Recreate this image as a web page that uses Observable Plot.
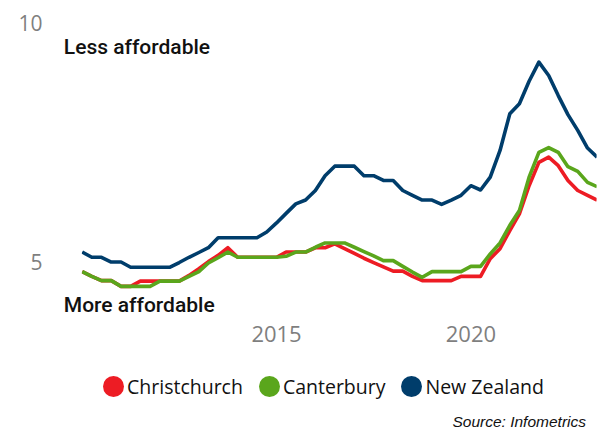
<!DOCTYPE html>
<html>
<head>
<meta charset="utf-8">
<script src="https://cdn.jsdelivr.net/npm/d3@7"></script>
<script src="https://cdn.jsdelivr.net/npm/@observablehq/plot@0.6"></script>
<style>
  html, body { margin: 0; padding: 0; background: #fff; }
  body { width: 598px; height: 439px; overflow: hidden; font-family: "Open Sans", sans-serif; }
  #chart svg { display: block; }
  .legend { display: flex; align-items: center; padding-left: 103px; margin-top: 17px; height: 28px; font-size: 19.5px; color: #111; }
  .legend .item { display: flex; align-items: center; margin-right: 16px; }
  .legend .dot { width: 21px; height: 21px; border-radius: 50%; margin-right: 3px; }
  .source { text-align: right; padding-right: 12px; margin-top: 12px; font-family: "Liberation Sans", Arial, sans-serif; font-style: italic; font-size: 15.5px; color: #111; line-height: 20px; }
</style>
</head>
<body>
<div id="chart"></div>
<div class="legend" id="legend"></div>
<div class="source">Source: Infometrics</div>
<script>
// Quarterly series, first quarter beginning Jan 2010 (54 quarters)
const firstQuarter = "2010-01-01";
const seriesNames = ["Christchurch", "Canterbury", "New Zealand"];
const seriesColors = ["#ED1C24", "#5AA61C", "#003D6B"];
const christchurch = [4.82,4.72,4.63,4.63,4.51,4.51,4.62,4.62,4.62,4.62,
  4.62,4.74,4.88,5.03,5.16,5.32,5.12,5.12,5.12,5.12,
  5.12,5.23,5.23,5.23,5.32,5.32,5.40,5.30,5.20,5.10,
  5.01,4.92,4.83,4.83,4.72,4.63,4.63,4.63,4.63,4.72,
  4.72,4.72,5.09,5.30,5.68,6.03,6.62,7.11,7.22,7.04,
  6.73,6.52,6.42,6.32];
const canterbury = [4.82,4.72,4.63,4.63,4.51,4.51,4.51,4.51,4.62,4.62,
  4.62,4.72,4.82,5.00,5.11,5.23,5.12,5.12,5.12,5.12,
  5.12,5.14,5.23,5.23,5.33,5.42,5.42,5.42,5.33,5.24,
  5.15,5.05,5.05,4.93,4.81,4.70,4.82,4.82,4.82,4.82,
  4.93,4.93,5.19,5.42,5.79,6.10,6.80,7.32,7.42,7.32,
  7.02,6.92,6.69,6.60];
const newZealand = [5.23,5.12,5.12,5.02,5.02,4.91,4.91,4.91,4.91,4.91,
  5.01,5.12,5.22,5.32,5.53,5.53,5.53,5.53,5.53,5.65,
  5.84,6.04,6.24,6.32,6.52,6.83,7.03,7.03,7.03,6.83,
  6.83,6.73,6.73,6.52,6.42,6.32,6.32,6.23,6.32,6.42,
  6.62,6.53,6.80,7.36,8.13,8.34,8.81,9.21,8.93,8.51,
  8.11,7.78,7.41,7.22];
const xTickYears = ["2015-01-01", "2020-01-01"];
const yTicks = [5, 10];
const annotations = ["Less affordable", "More affordable"];

const start = new Date(firstQuarter);
const dates = christchurch.map((_, i) => d3.utcMonth.offset(start, 3 * i));
const values = [christchurch, canterbury, newZealand];
const rows = [];
seriesNames.forEach((name, s) => values[s].forEach((v, i) => rows.push({series: name, date: dates[i], value: v})));

const chart = Plot.plot({
  width: 598,
  height: 355,
  marginLeft: 81.7,
  marginRight: 1.4,
  marginTop: 24,
  marginBottom: 44.8,
  style: {fontFamily: "Open Sans, sans-serif", background: "#fff", overflow: "visible"},
  x: {type: "utc", domain: [dates[0], dates[dates.length - 1]]},
  y: {domain: [4, 10]},
  color: {domain: seriesNames, range: seriesColors},
  marks: [
    Plot.axisX({ticks: xTickYears.map(d => new Date(d)), tickFormat: d3.utcFormat("%Y"), tickSize: 0, tickPadding: 16, fontSize: 22, color: "#7f7f7f", label: null}),
    Plot.axisY({ticks: yTicks, tickFormat: d => String(d), tickSize: 0, tickPadding: 39.7, fontSize: 21, color: "#7f7f7f", label: null}),
    Plot.lineY(rows, {x: "date", y: "value", z: "series", stroke: "series", strokeWidth: 3.6, strokeLinejoin: "round", strokeLinecap: "butt", clip: true}),
    Plot.text([annotations[0]], {text: d => d, frameAnchor: "top-left", textAnchor: "start", lineAnchor: "middle", dx: -18.4, dy: 23.2, fontSize: 21, fontWeight: 500, fontFamily: "Roboto", fill: "#111"}),
    Plot.text([annotations[1]], {text: d => d, frameAnchor: "bottom-left", textAnchor: "start", lineAnchor: "middle", dx: -18.4, dy: -5.4, fontSize: 21, fontWeight: 500, fontFamily: "Roboto", fill: "#111"})
  ]
});
document.getElementById("chart").appendChild(chart);

const legend = document.getElementById("legend");
seriesNames.forEach((name, i) => {
  const item = document.createElement("div");
  item.className = "item";
  item.innerHTML = `<span class="dot" style="background:${seriesColors[i]}"></span><span>${name}</span>`;
  legend.appendChild(item);
});
</script>
</body>
</html>
